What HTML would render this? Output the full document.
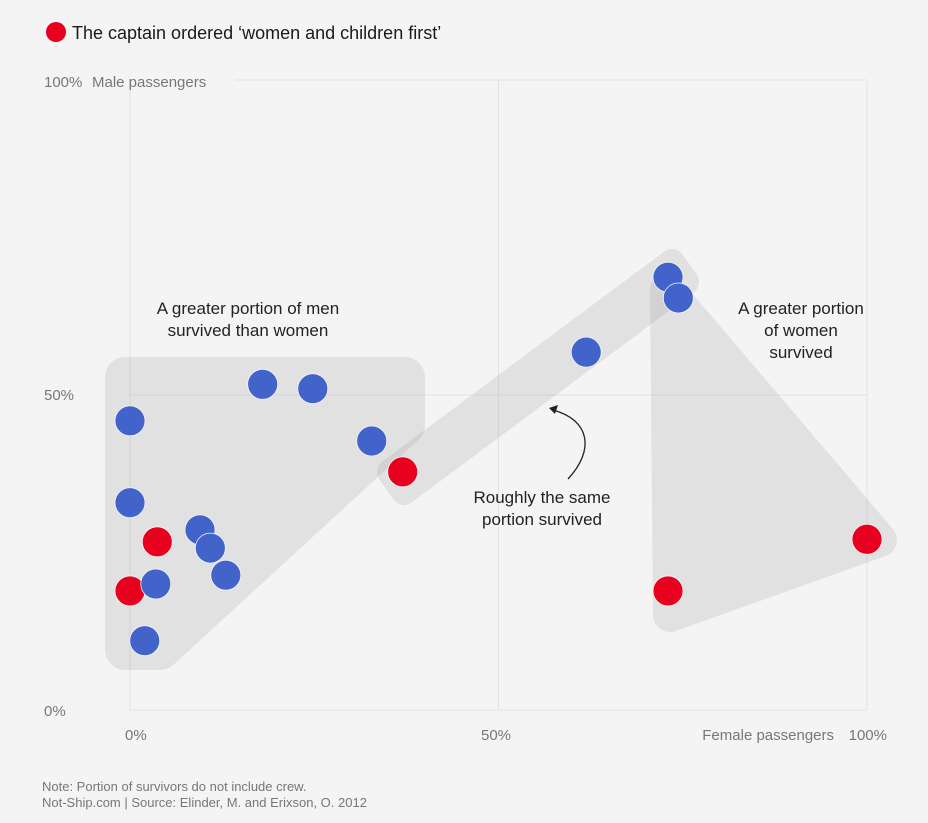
<!DOCTYPE html>
<html><head><meta charset="utf-8"><style>
html,body{margin:0;padding:0;background:#f4f4f4;}
svg{display:block;font-family:"Liberation Sans",sans-serif;}
</style></head><body>
<svg id="chart" width="928" height="823" viewBox="0 0 928 823">
<rect width="928" height="823" fill="#f4f4f4"/>
<g id="grid"></g>
<g id="shapes">
<path d="M125,377 L405,377 L405,425 L160,650 L125,650 Z" fill="#8a8a8a" stroke="#8a8a8a" opacity="0.17" stroke-width="40" stroke-linejoin="round"/>
<path d="M390,472 L672,262 L686,282 L404,492 Z" fill="#8a8a8a" stroke="#8a8a8a" opacity="0.17" stroke-width="26" stroke-linejoin="round"/>
<path d="M667,290 L880,540 L670,615 Z" fill="#8a8a8a" stroke="#8a8a8a" opacity="0.17" stroke-width="34" stroke-linejoin="round"/>
</g>
<g id="points"></g>
<g>
<circle cx="56" cy="32" r="10" fill="#e8001f"/>
<text x="72" y="39" font-size="18" fill="#1a1a1a">The captain ordered ‘women and children first’</text>
</g>
<text x="44" y="87" font-size="15" fill="#777">100%</text>
<text x="92" y="87" font-size="15" fill="#777">Male passengers</text>
<text x="44" y="400" font-size="15" fill="#777">50%</text>
<text x="44" y="716" font-size="15" fill="#777">0%</text>
<text x="125" y="740" font-size="15" fill="#777">0%</text>
<text x="481" y="740" font-size="15" fill="#777">50%</text>
<text x="834" y="740" font-size="15" fill="#777" text-anchor="end">Female passengers</text>
<text x="887" y="740" font-size="15" fill="#777" text-anchor="end">100%</text>
<text font-size="17" fill="#222" text-anchor="middle"><tspan x="248" y="314">A greater portion of men</tspan><tspan x="248" y="336">survived than women</tspan></text>
<text font-size="17" fill="#222" text-anchor="middle"><tspan x="801" y="314">A greater portion</tspan><tspan x="801" y="336">of women</tspan><tspan x="801" y="358">survived</tspan></text>
<text font-size="17" fill="#222" text-anchor="middle"><tspan x="542" y="503">Roughly the same</tspan><tspan x="542" y="525">portion survived</tspan></text>
<path d="M568,479 C595,450 590,420 553,410" fill="none" stroke="#222" stroke-width="1.3"/>
<path d="M549,408 L558,405 L555,414 Z" fill="#222"/>
<text font-size="13" fill="#777"><tspan x="42" y="791">Note: Portion of survivors do not include crew.</tspan><tspan x="42" y="807">Not-Ship.com | Source: Elinder, M. and Erixson, O. 2012</tspan></text>
</svg>
<script>
const blueFemale=[0,0,2.0,3.5,9.5,10.9,13.0,18.0,24.8,32.8,61.9,73.0,74.4];
const blueMale=[45.9,32.9,11.0,20.0,28.6,25.7,21.4,51.7,51.0,42.7,56.8,68.7,65.4];
const redFemale=[0,3.7,37.0,73.0,100];
const redMale=[18.9,26.7,37.8,18.9,27.1];
const gridTicks=[0,50,100];
const NS="http://www.w3.org/2000/svg";
function xS(v){return 130+v*7.37;}
function yS(v){return 710-v*6.3;}
const grid=document.getElementById('grid');
gridTicks.forEach(t=>{
  const l=document.createElementNS(NS,'line');
  l.setAttribute('x1',xS(t));l.setAttribute('x2',xS(t));l.setAttribute('y1',yS(100));l.setAttribute('y2',yS(0));
  l.setAttribute('stroke','#e2e2e2');l.setAttribute('stroke-width','1');
  
  
  grid.appendChild(l);
  const h=document.createElementNS(NS,'line');
  h.setAttribute('x1',t===100?235:xS(0));h.setAttribute('x2',xS(100));h.setAttribute('y1',yS(t));h.setAttribute('y2',yS(t));
  h.setAttribute('stroke','#e2e2e2');h.setAttribute('stroke-width','1');
  
  
  grid.appendChild(h);
});
const pts=document.getElementById('points');
function dot(x,y,c,name){
  const e=document.createElementNS(NS,'circle');
  e.setAttribute('cx',xS(x));e.setAttribute('cy',yS(y));e.setAttribute('r',15);
  e.setAttribute('fill',c);e.setAttribute('stroke','#f4f4f4');e.setAttribute('stroke-width','0.8');
  
  
  pts.appendChild(e);
}
redFemale.forEach((v,i)=>dot(v,redMale[i],'#e8001f','point-red'));
blueFemale.forEach((v,i)=>dot(v,blueMale[i],'#4263c9','point-blue'));
</script>
</body></html>
